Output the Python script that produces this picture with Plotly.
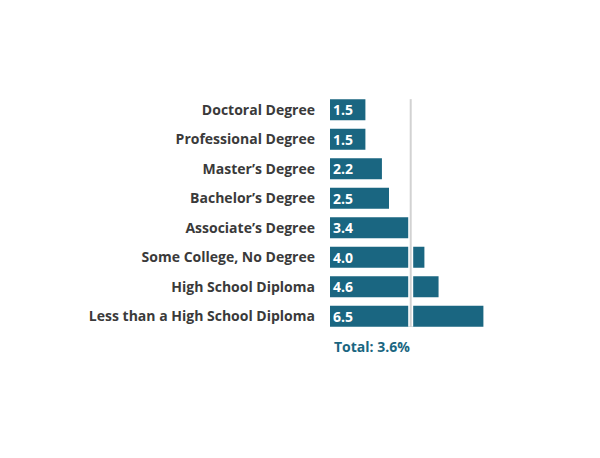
import plotly.graph_objects as go

categories = ["Doctoral Degree", "Professional Degree", "Master’s Degree", "Bachelor’s Degree",
              "Associate’s Degree", "Some College, No Degree", "High School Diploma",
              "Less than a High School Diploma"]
values = [1.5, 1.5, 2.2, 2.5, 3.4, 4.0, 4.6, 6.5]
total_label = "Total: 3.6%"
total_line_x = 3.42

BAR = "#1a6681"
FONT = "Open Sans"

fig = go.Figure()
fig.add_trace(go.Bar(
    y=categories, x=values, orientation="h",
    marker=dict(color=BAR, line=dict(width=0)),
    texttemplate="<b>%{x:.1f}</b>", textposition="inside", insidetextanchor="start",
    constraintext="none",
    textfont=dict(color="white", size=14, family=FONT),
    hoverinfo="skip", showlegend=False,
))

fig.add_shape(type="line", xref="x", yref="y", x0=total_line_x, x1=total_line_x,
              y0=-0.36, y1=7.36, line=dict(color="white", width=5), layer="above")
fig.add_shape(type="line", xref="x", yref="y", x0=total_line_x, x1=total_line_x,
              y0=-0.36, y1=7.36, line=dict(color="#d2d2d2", width=2), layer="above")

fig.add_annotation(text="<b>" + total_label + "</b>", xref="x", yref="paper", x=0.1, y=-0.065,
                   xanchor="left", yanchor="middle", showarrow=False,
                   font=dict(color=BAR, size=14, family=FONT))

fig.update_layout(
    width=592, height=450,
    margin=dict(l=322, r=34, t=87, b=127, autoexpand=False),
    paper_bgcolor="white", plot_bgcolor="white",
    bargap=0.29,
    xaxis=dict(range=[0, 10], visible=False, fixedrange=True, automargin=False),
    yaxis=dict(categoryorder="array", categoryarray=categories, autorange="reversed",
               showgrid=False, zeroline=False, showline=False, ticks="", automargin=False,
               ticklabelstandoff=14,
               tickfont=dict(size=14, color="#3a3a3a", family=FONT, weight="bold")),
    font=dict(family=FONT),
)

fig.write_html("out.html")
